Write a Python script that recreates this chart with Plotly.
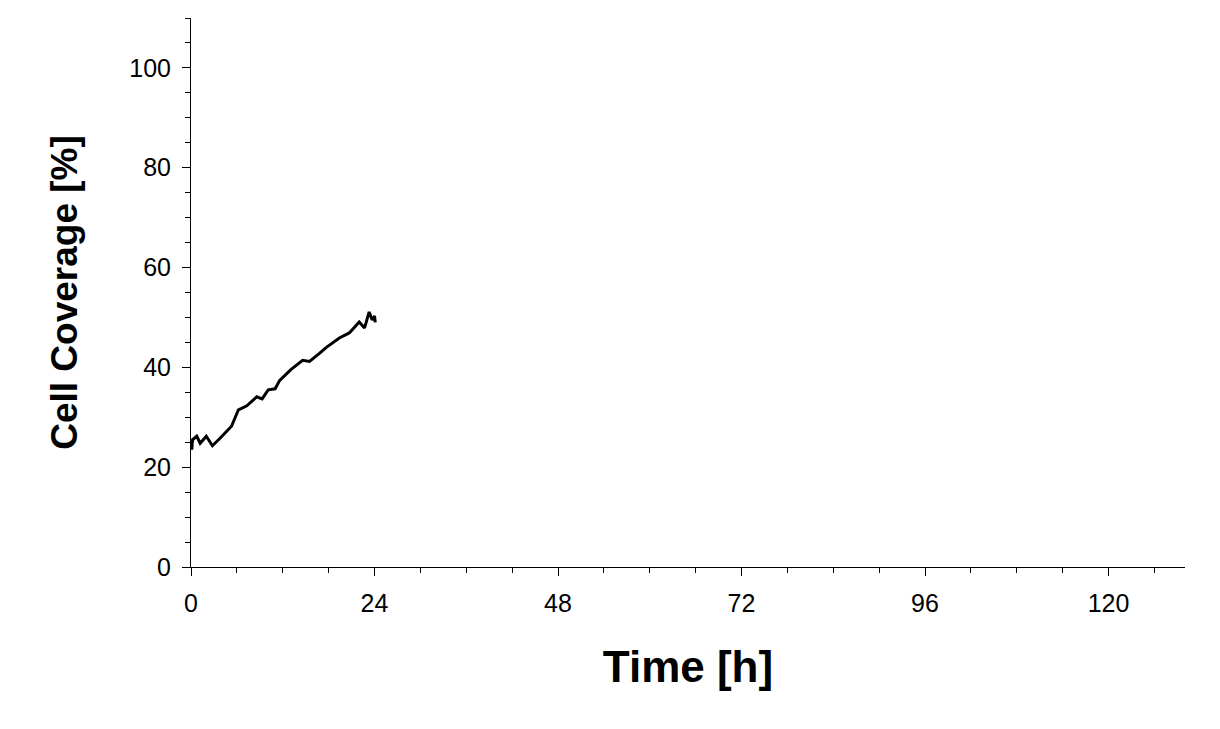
import plotly.graph_objects as go

time_h = [0.1, 0.2, 0.75, 1.2, 2.0, 2.8, 3.8, 5.3, 6.2, 7.3, 8.6, 9.3, 10.1, 11.0, 11.6,
          13.1, 14.6, 15.5, 16.8, 17.7, 19.4, 20.7, 22.0, 22.7, 23.3, 23.7, 24.0, 24.1]
coverage = [23.5, 25.5, 26.2, 24.8, 26.2, 24.3, 25.8, 28.2, 31.5, 32.3, 34.1, 33.7, 35.5, 35.7, 37.4,
            39.6, 41.4, 41.2, 42.8, 44.0, 45.9, 46.9, 49.1, 47.9, 51.1, 49.5, 50.3, 49.0]

fig = go.Figure(go.Scatter(x=time_h, y=coverage, mode='lines',
                           line=dict(color='black', width=3), showlegend=False))

axis_common = dict(showline=True, linecolor='black', linewidth=1, showgrid=False, zeroline=False,
                   ticks='outside', ticklen=8, tickcolor='black', ticklabelstandoff=6,
                   tickfont=dict(family='Arial, Liberation Sans', size=25, color='black'))

fig.update_xaxes(range=[0, 130], dtick=24, tick0=0,
                 minor=dict(dtick=6, ticks='outside', ticklen=5, tickcolor='black'),
                 title=dict(text='<b>Time [h]</b>', font=dict(family='Arial, Liberation Sans', size=44, color='black'), standoff=35),
                 **axis_common)
fig.update_yaxes(range=[0, 110], dtick=20, tick0=0,
                 minor=dict(dtick=5, ticks='outside', ticklen=5, tickcolor='black'),
                 title=dict(text='<b>Cell Coverage [%]</b>', font=dict(family='Arial, Liberation Sans', size=37, color='black'), standoff=40),
                 **axis_common)

fig.update_layout(width=1220, height=729, plot_bgcolor='white', paper_bgcolor='white',
                  margin=dict(l=183, r=43, t=10, b=170))

fig.write_html("out.html")
